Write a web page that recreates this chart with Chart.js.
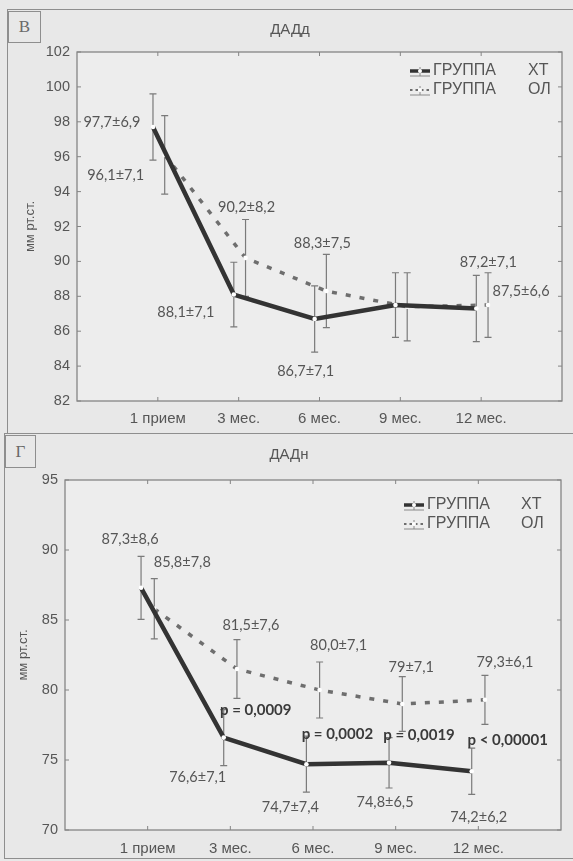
<!DOCTYPE html>
<html><head><meta charset="utf-8">
<script src="https://cdn.jsdelivr.net/npm/chart.js@4.4.1/dist/chart.umd.min.js"></script>
<style>
html,body{margin:0;padding:0;background:#e8e8e8;width:573px;height:861px;overflow:hidden;font-family:"Liberation Sans",Arial,sans-serif}
.panel{position:absolute;border:1.5px solid #8e8e8e;border-right:none;box-sizing:border-box}
.letter{position:absolute;border:1.3px solid #8e8e8e;box-sizing:border-box;font-family:"Liberation Serif",serif;font-size:17px;color:#6a6a6a;text-align:center}
canvas{position:absolute;left:0}
</style></head><body>
<div class="panel" style="left:7px;top:9px;width:570px;height:425px"></div>
<div class="panel" style="left:4px;top:433px;width:573px;height:426px"></div>
<div class="letter" style="left:8px;top:11px;width:33px;height:32px;line-height:30px">В</div>
<div class="letter" style="left:5px;top:435px;width:31px;height:33px;line-height:31px">Г</div>
<canvas id="cB" width="573" height="433" style="top:0"></canvas>
<canvas id="cG" width="573" height="428" style="top:433px"></canvas>
<script>
// ---------- data ----------
const categories = ['1 прием', '3 мес.', '6 мес.', '9 мес.', '12 мес.'];
const groupWord = 'ГРУППА';
const groupCodes = ['ХТ', 'ОЛ'];
const yAxisTitle = 'мм рт.ст.';

// Panel В: ДАДд
const titleD = 'ДАДд';
const dXT = [97.7, 88.1, 86.7, 87.5, 87.3];
const dXTerr = [1.9, 1.85, 1.9, 1.85, 1.9];
const dOL = [96.1, 90.2, 88.3, 87.4, 87.5];
const dOLerr = [2.25, 2.2, 2.1, 1.95, 1.85];
const dXTtext = ['97,7±6,9', '88,1±7,1', '86,7±7,1', '', '87,2±7,1'];
const dOLtext = ['96,1±7,1', '90,2±8,2', '88,3±7,5', '', '87,5±6,6'];
const dYTicks = [82, 102, 2];

// Panel Г: ДАДн
const titleN = 'ДАДн';
const nXT = [87.3, 76.6, 74.7, 74.8, 74.2];
const nXTerr = [2.25, 2.0, 2.0, 1.8, 1.65];
const nOL = [85.8, 81.5, 80.0, 79.0, 79.3];
const nOLerr = [2.15, 2.1, 2.0, 1.95, 1.75];
const nXTtext = ['87,3±8,6', '76,6±7,1', '74,7±7,4', '74,8±6,5', '74,2±6,2'];
const nOLtext = ['85,8±7,8', '81,5±7,6', '80,0±7,1', '79±7,1', '79,3±6,1'];
const nPtext = ['', 'p = 0,0009', 'p = 0,0002', 'p = 0,0019', 'p < 0,00001'];
const nYTicks = [70, 95, 5];

// ---------- layout (pixel offsets of annotations relative to their point) ----------
const layoutD = {
  xtShift: -0.06, olShift: 0.085,
  xtOff: [[-41, -5], [-48, 18], [-9, 52], null, [12, -46]],
  olOff: [[-49, 20], [1, -51], [-4, -48], null, [33, -14]],
  pOff: [],
  legend: {x0: 410, x1: 430, tx: 433, cx: 528, y: [71, 90]},
  title: {x: 290, y: 30},
  top: 52, yW: 77, xH: 32, padR: 11, yTitlePad: 23, xTickPad: 9
};
const layoutN = {
  xtShift: -0.08, olShift: 0.08,
  xtOff: [[-11, -48], [-26, 40], [-16, 43], [-4, 40], [7, 46]],
  olOff: [[28, -46], [14, -44], [19, -45], [9, -37], [20, -37]],
  pOff: [null, [32, -27], [31, -30], [30, -28], [36, -31]],
  legend: {x0: 404, x1: 424, tx: 427, cx: 521, y: [72, 91]},
  title: {x: 289, y: 22},
  top: 47, yW: 65, xH: 31, padR: 12, yTitlePad: 16, xTickPad: 10
};

const TXT = '#565656';
const XT_COL = '#333333';
const OL_COL = '#6e6e6e';

const decor = {
  id: 'decor',
  beforeDraw(chart, args, o) {
    const {ctx, chartArea: a} = chart;
    ctx.save();
    ctx.fillStyle = '#ededed';
    ctx.fillRect(a.left, a.top, a.right - a.left, a.bottom - a.top);
    ctx.restore();
  },
  beforeDatasetsDraw(chart, args, o) {
    const {ctx, scales: {x, y}} = chart;
    ctx.save();
    ctx.strokeStyle = '#7a7a7a';
    ctx.lineWidth = 1.2;
    chart.data.datasets.forEach((ds, di) => {
      const errs = o.errors[di];
      ds.data.forEach((p, i) => {
        const px = x.getPixelForValue(p.x);
        const yt = y.getPixelForValue(p.y + errs[i]);
        const yb = y.getPixelForValue(p.y - errs[i]);
        ctx.beginPath();
        ctx.moveTo(px, yt); ctx.lineTo(px, yb);
        ctx.moveTo(px - 3.5, yt); ctx.lineTo(px + 3.5, yt);
        ctx.moveTo(px - 3.5, yb); ctx.lineTo(px + 3.5, yb);
        ctx.stroke();
      });
    });
    ctx.restore();
  },
  afterDraw(chart, args, o) {
    const {ctx, chartArea: a, scales: {x, y}} = chart;
    const L = o.layout;
    ctx.save();
    // title
    ctx.fillStyle = TXT;
    ctx.textAlign = 'center';
    ctx.textBaseline = 'middle';
    ctx.font = '15px "Liberation Sans"';
    ctx.fillText(o.title, L.title.x, L.title.y);
    // frame
    ctx.strokeStyle = '#858585';
    ctx.lineWidth = 1.3;
    ctx.strokeRect(a.left, a.top, a.right - a.left, a.bottom - a.top);
    // inward tick marks
    ctx.lineWidth = 1;
    ctx.beginPath();
    for (let i = 1; i <= categories.length; i++) {
      const px = x.getPixelForValue(i);
      ctx.moveTo(px, a.bottom); ctx.lineTo(px, a.bottom - 4);
      ctx.moveTo(px, a.top); ctx.lineTo(px, a.top + 4);
    }
    y.ticks.forEach(t => {
      const py = y.getPixelForValue(t.value);
      ctx.moveTo(a.right, py); ctx.lineTo(a.right - 4, py);
      ctx.moveTo(a.left, py); ctx.lineTo(a.left + 4, py);
    });
    ctx.stroke();
    // value annotations
    const drawSet = (texts, offs, di, font) => {
      const meta = chart.getDatasetMeta(di);
      ctx.font = font;
      texts.forEach((t, i) => {
        if (!t || !offs[i]) return;
        const el = meta.data[i];
        ctx.fillText(t, el.x + offs[i][0], el.y + offs[i][1]);
      });
    };
    ctx.fillStyle = TXT;
    drawSet(o.texts[0], L.xtOff, 0, '14.5px Lato');
    drawSet(o.texts[1], L.olOff, 1, '14.5px Lato');
    if (o.ptexts) { ctx.fillStyle = '#3a3a3a'; drawSet(o.ptexts, L.pOff, 0, 'bold 15px Lato'); }
    // legend
    const lg = L.legend;
    ctx.textAlign = 'left';
    ctx.fillStyle = TXT;
    ctx.font = '16px "Liberation Sans"';
    lg.y.forEach((ly, r) => {
      ctx.save();
      ctx.strokeStyle = r === 0 ? XT_COL : OL_COL;
      ctx.lineWidth = r === 0 ? 3.5 : 2.2;
      ctx.setLineDash(r === 0 ? [] : [2.5, 3]);
      ctx.beginPath(); ctx.moveTo(lg.x0, ly); ctx.lineTo(lg.x1, ly); ctx.stroke();
      ctx.setLineDash([]);
      ctx.strokeStyle = '#8a8a8a'; ctx.lineWidth = 1;
      const cx = (lg.x0 + lg.x1) / 2;
      ctx.beginPath();
      ctx.moveTo(cx, ly - 4); ctx.lineTo(cx, ly + 5);
      ctx.moveTo(lg.x0, ly + 5); ctx.lineTo(lg.x1, ly + 5);
      ctx.stroke();
      ctx.fillStyle = '#ffffff';
      ctx.beginPath(); ctx.arc(cx, ly, 2, 0, Math.PI * 2); ctx.fill();
      ctx.restore();
      ctx.fillText(groupWord, lg.tx, ly);
      ctx.fillText(groupCodes[r], lg.cx, ly);
    });
    ctx.restore();
  }
};

function makeChart(id, title, xt, xtErr, ol, olErr, xtText, olText, pText, yT, L) {
  const pts = (arr, sh) => arr.map((v, i) => ({x: i + 1 + sh, y: v}));
  return new Chart(document.getElementById(id), {
    type: 'line',
    data: {
      datasets: [
        {label: groupWord + ' ' + groupCodes[0], data: pts(xt, L.xtShift), borderColor: XT_COL, borderWidth: 4.5,
         pointRadius: 2.3, pointBackgroundColor: '#ffffff', pointBorderColor: '#ffffff', pointBorderWidth: 0, tension: 0, order: 1},
        {label: groupWord + ' ' + groupCodes[1], data: pts(ol, L.olShift), borderColor: OL_COL, borderWidth: 3.5,
         borderDash: [5, 9], pointRadius: 2.3, pointBackgroundColor: '#ffffff', pointBorderColor: '#ffffff', pointBorderWidth: 0, tension: 0, order: 2}
      ]
    },
    options: {
      responsive: false, animation: false, devicePixelRatio: 1,
      layout: {padding: {top: L.top, left: 0, bottom: 0, right: L.padR}},
      plugins: {
        legend: {display: false}, tooltip: {enabled: false}, title: {display: false},
        decor: {title: title, errors: [xtErr, olErr], texts: [xtText, olText], ptexts: pText, layout: L}
      },
      scales: {
        x: {type: 'linear', min: 0, max: categories.length + 1,
            grid: {display: false, drawTicks: false}, border: {display: false},
            ticks: {stepSize: 1, autoSkip: false, maxRotation: 0, padding: L.xTickPad, color: TXT,
                    font: {family: 'Liberation Sans', size: 15},
                    callback: v => categories[v - 1] || ''},
            afterFit: s => { s.height = L.xH; }},
        y: {min: yT[0], max: yT[1],
            grid: {display: false, drawTicks: false}, border: {display: false},
            ticks: {stepSize: yT[2], padding: 7, color: TXT, font: {family: 'Liberation Sans', size: 14.5}},
            title: {display: true, text: yAxisTitle, color: TXT, font: {family: 'Liberation Sans', size: 13}, padding: {top: L.yTitlePad, bottom: 0}},
            afterFit: s => { s.width = L.yW; }}
      }
    },
    plugins: [decor]
  });
}

makeChart('cB', titleD, dXT, dXTerr, dOL, dOLerr, dXTtext, dOLtext, null, dYTicks, layoutD);
makeChart('cG', titleN, nXT, nXTerr, nOL, nOLerr, nXTtext, nOLtext, nPtext, nYTicks, layoutN);
</script>
</body></html>
